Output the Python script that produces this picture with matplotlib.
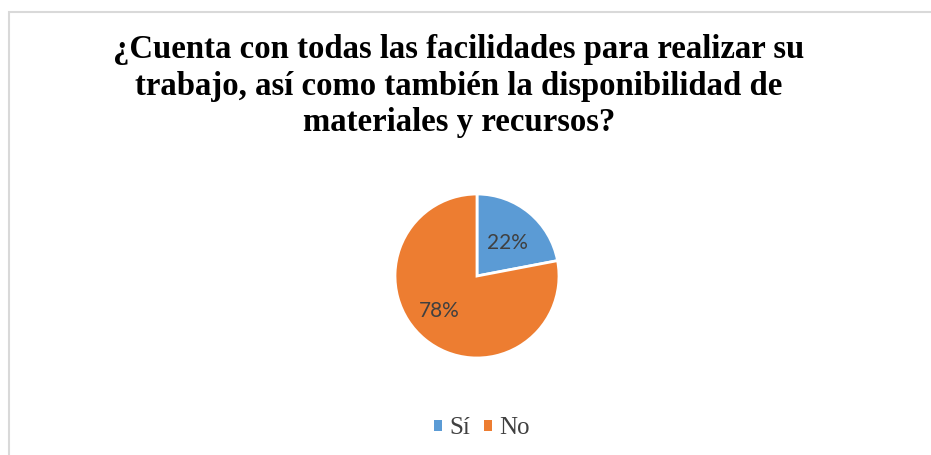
import matplotlib.pyplot as plt
from matplotlib.patches import Rectangle, Patch

labels = ["Sí", "No"]
values = [22, 78]
colors = ["#5B9BD5", "#ED7D31"]
title = ("¿Cuenta con todas las facilidades para realizar su\n"
         "trabajo, así como también la disponibilidad de\n"
         "materiales y recursos?")

W, H = 931, 455
fig = plt.figure(figsize=(W / 100, H / 100), dpi=100)

# chart border (light gray, runs off the right/bottom edge)
fig.patches.append(Rectangle((8.5 / W, -0.05), 1.0, 1 - 12 / H + 0.05,
                             transform=fig.transFigure, fill=False,
                             edgecolor="#D9D9D9", linewidth=1.5))

fig.text(459 / W, 1 - 86 / H, title, ha="center", va="center",
         fontsize=23.6, fontweight="bold", family="Liberation Serif",
         linespacing=1.22, color="black")

# pie axes: center (477, 276), radius ~82 px
r = 82
cx, cy = 477, 276
ax = fig.add_axes([(cx - r) / W, 1 - (cy + r) / H, 2 * r / W, 2 * r / H])
wedges, texts, autotexts = ax.pie(
    values, colors=colors, startangle=90, counterclock=False,
    autopct="%1.0f%%", pctdistance=0.6, radius=1.0,
    wedgeprops=dict(edgecolor="white", linewidth=2),
    textprops=dict(fontsize=15, color="#404040", family="Lato"))
# Excel-style label placement
autotexts[0].set_position((0.37, 0.40))
autotexts[1].set_position((-0.46, -0.43))
ax.set_xlim(-1, 1)
ax.set_ylim(-1, 1)
ax.set_aspect("equal")
ax.axis("off")

handles = [Patch(facecolor=c, edgecolor="none") for c in colors]
leg = fig.legend(handles, labels, loc="center", bbox_to_anchor=(482 / W, 1 - 428 / H),
                 ncol=2, frameon=False, handlelength=0.3, handleheight=0.3,
                 handletextpad=0.3, columnspacing=0.55,
                 prop=dict(family="Liberation Serif", size=18))
for t in leg.get_texts():
    t.set_color("#404040")

fig.savefig("out.png", dpi=100)
